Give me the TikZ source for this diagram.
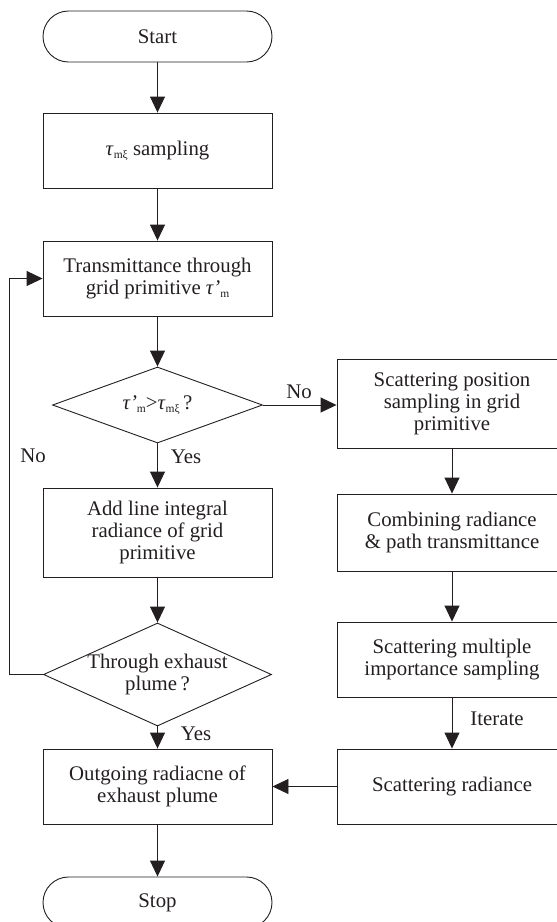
\documentclass[tikz,border=0pt]{standalone}
\usepackage{fontspec}
\setmainfont{Liberation Serif}
\usetikzlibrary{arrows.meta,shapes.geometric}
\definecolor{ink}{RGB}{35,31,32}
\newcommand\lowsub[1]{\raisebox{-0.35ex}{\fontsize{11.5}{12}\selectfont #1}}
\newcommand\itau{\textit{τ}}
\newcommand\itaup{\textit{τ’}}
\begin{document}
\begin{tikzpicture}[x=1pt,y=-1pt,
  every node/.style={font=\fontsize{20.8}{22}\selectfont, text=ink, align=center},
  box/.style={draw=ink, line width=0.9pt, rectangle, inner sep=0pt},
  lcol/.style={box, minimum width=229pt},
  rcol/.style={box, minimum width=230pt},
  htwo/.style={minimum height=75pt},
  hthree/.style={minimum height=89pt},
  term/.style={box, rounded corners=25.5pt, minimum width=229pt, minimum height=51pt},
  dia/.style={draw=ink, line width=0.9pt, diamond, inner sep=0pt},
  conn/.style={draw=ink, line width=0.9pt, -{Triangle[length=16pt,width=15pt]}},
  lbl/.style={inner sep=0pt}
]
\useasboundingbox (0,0) rectangle (557,922);
\clip (0,0) rectangle (557,922);

% left column
\node[term] (start) at (157.5,36.5) {Start};
\node[lcol,htwo] (tau) at (157.5,150.5) {\itau\lowsub{mξ} sampling};
\node[lcol,htwo] (trans) at (157.5,278.5) {Transmittance through\\grid primitive \itaup\lowsub{m}};
\node[dia, minimum width=210pt, minimum height=76pt] (d1) at (157.5,405) {};
\node (d1t) at (d1.center) {\itaup\lowsub{m}>\itau\lowsub{mξ}\,?};
\node[lcol,hthree] (add) at (157.5,532.5) {Add line integral\\radiance of grid\\primitive};
\node[dia, minimum width=228pt, minimum height=103pt] (d2) at (157.5,674.5) {};
\node (d2t) at (d2.center) {Through exhaust\\plume\,?};
\node[lcol,htwo] (out) at (157.5,786.5) {Outgoing radiacne of\\exhaust plume};
\node[term] (stop) at (157.5,902.5) {Stop};

% right column
\node[rcol,hthree] (sp) at (452,403.5) {Scattering position\\sampling in grid\\primitive};
\node[rcol, minimum height=77pt] (comb) at (452,532.5) {Combining radiance\\\& path transmittance};
\node[rcol,htwo] (smis) at (452,659.5) {Scattering multiple\\importance sampling};
\node[rcol,htwo] (srad) at (452,786.5) {Scattering radiance};

% connectors
\draw[conn] (start) -- (tau);
\draw[conn] (tau) -- (trans);
\draw[conn] (trans) -- (d1.north);
\draw[conn] (d1.east) -- (d1.east -| sp.west);
\node[lbl] (no1) at (299,392) {No};
\draw[conn] (d1.south) -- (add.north);
\node[lbl] (yes1) at (186,457) {Yes};
\draw[conn] (add) -- (d2.north);
\draw[conn] (d2.west) -- ++(-33.5,0) |- (trans.west);
\node[lbl] (no2) at (33,456) {No};
\draw[conn] (d2.south) -- (out.north);
\node[lbl] (yes2) at (196,734) {Yes};
\draw[conn] (out) -- (stop);
\draw[conn] (sp) -- (comb);
\draw[conn] (comb) -- (smis);
\draw[conn] (smis) -- (srad);
\node[lbl] (iter) at (497,719) {Iterate};
\draw[conn] (srad.west) -- (out.east);
\end{tikzpicture}
\end{document}
